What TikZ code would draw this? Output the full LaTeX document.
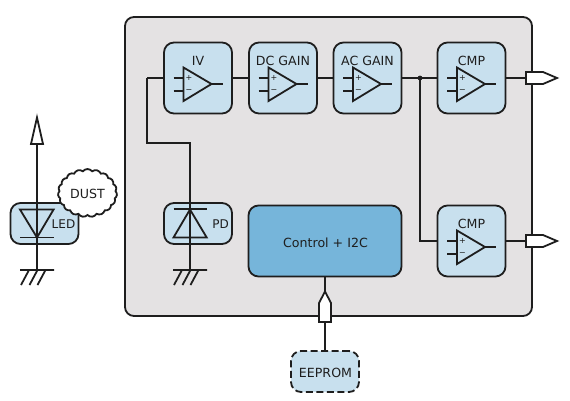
\documentclass[tikz,border=0pt]{standalone}
\usepackage{fontspec}
\setmainfont{DejaVu Sans}
\usetikzlibrary{shapes.symbols}
\definecolor{ink}{HTML}{1E1E1E}
\definecolor{chip}{HTML}{E4E2E3}
\definecolor{blockblue}{HTML}{C8E0EE}
\definecolor{ctrlblue}{HTML}{76B5DA}
\tikzset{
  wire/.style={draw=ink,line width=1.8pt},
  chipbox/.style={draw=ink,fill=chip,line width=1.8pt,rounded corners=9pt,minimum width=407pt,minimum height=299pt,inner sep=0pt},
  blockbox/.style={draw=ink,fill=blockblue,line width=1.8pt,rounded corners=10pt,minimum width=68pt,minimum height=71pt,inner sep=0pt},
  lowbox/.style={blockbox,minimum height=41pt},
  ctrlbox/.style={blockbox,fill=ctrlblue,minimum width=153pt},
  eebox/.style={lowbox,dashed,dash pattern=on 7pt off 3.5pt},
  label/.style={text=ink,font=\fontsize{12.6}{14}\selectfont,inner sep=0pt},
  hollow/.style={draw=ink,fill=white,line width=1.8pt,line join=miter},
  puff/.style={draw=ink,fill=white,line width=1.8pt,cloud,cloud puffs=19,cloud puff arc=105,aspect=1.2,minimum width=59pt,minimum height=48pt,inner sep=0pt},
  opamp/.pic={
    \draw[wire] (-24.5,0) -- (-14.5,0) (-24.5,13) -- (-14.5,13) (13.5,6) -- (24.5,6);
    \draw[wire,line join=miter] (-14.5,-10.5) -- (13.5,6) -- (-14.5,23) -- cycle;
    \node[text=ink,font=\fontsize{8}{8}\selectfont,inner sep=0pt] (-pl) at (-9,0) {+};
    \node[text=ink,font=\fontsize{8}{8}\selectfont,inner sep=0pt] (-mi) at (-9,13) {−};
  },
  earth/.pic={
    \draw[wire] (-17,0) -- (17,0) (-8,0) -- (-16,15) (0.5,0) -- (-7.5,15) (8.5,0) -- (0.5,15);
  }
}
\begin{document}
\begin{tikzpicture}[x=1pt,y=-1pt]
\useasboundingbox (0,0) rectangle (570,400);
\node[chipbox] (chip) at (328.5,166.5) {};
% blocks
\node[blockbox] (iv) at (198,78) {};
\node[blockbox] (dc) at (283,78) {};
\node[blockbox] (ac) at (367.5,78) {};
\node[blockbox] (cmpa) at (471.5,78) {};
\node[blockbox] (cmpb) at (471.5,241) {};
\node[ctrlbox] (ctrl) at (325,241) {};
\node[lowbox] (pd) at (198,223.5) {};
\node[lowbox] (led) at (44.5,223.5) {};
\node[eebox] (ee) at (325,371.5) {};
\node[label] (ctrlt) at (325.5,242.5) {Control + I2C};
\node[label] (eet) at (325.5,372.5) {EEPROM};
% titles and amplifiers
\node[label] (ivt) at (198,60.5) {IV};
\node[label] (dct) at (283,60.5) {DC GAIN};
\node[label] (act) at (367.5,60.5) {AC GAIN};
\node[label] (cmpat) at (471.5,60.5) {CMP};
\node[label] (cmpbt) at (471.5,223.5) {CMP};
\pic (oa) at (198,78) {opamp};
\pic (ob) at (283,78) {opamp};
\pic (oc) at (367.5,78) {opamp};
\pic (od) at (471.5,78) {opamp};
\pic (oe) at (471.5,241) {opamp};
% wires
\coordinate (jn) at (420,78);
\coordinate (ivin) at (147,78);
\coordinate (bend) at (147,143);
\coordinate (pdtop) at (190,143);
\coordinate (pdgnd) at (190,270);
\coordinate (ledtop) at (37,143);
\coordinate (ledgnd) at (37,270);
\coordinate (outa) at (526,78);
\coordinate (outb) at (526,241);
\coordinate (ctrlport) at (325,322);
\draw[wire] (ivin) -- (iv.west);
\draw[wire] (iv.east) -- (dc.west);
\draw[wire] (dc.east) -- (ac.west);
\draw[wire] (ac.east) -- (cmpa.west);
\draw[wire,line join=miter] (ivin) -- (bend) -- (pdtop) -- (pdgnd);
\draw[wire] (jn) |- (cmpb.west);
\fill[ink] (jn) circle (2.4pt);
\draw[wire] (cmpa.east) -- (outa);
\draw[wire] (cmpb.east) -- (outb);
\draw[wire] (ctrl.south) -- (ee.north);
\draw[wire] (ledtop) -- (ledgnd);
% diode symbols
\draw[wire,line join=miter] (190,209.5) -- (206.7,237.5) -- (173.5,237.5) -- cycle;
\draw[wire] (173.5,209) -- (207,209);
\draw[wire,line join=miter] (20,209.5) -- (53.6,209.5) -- (37,237.5) -- cycle;
\draw[wire] (20,237.5) -- (53.6,237.5);
\pic at (pdgnd) {earth};
\pic at (ledgnd) {earth};
\node[label,font=\fontsize{12}{14}\selectfont] (pdt) at (220.5,224) {PD};
\node[label,font=\fontsize{12}{14}\selectfont] (ledt) at (63.5,224) {LED};
% cloud
\node[puff] (dust) at (87.5,193) {};
\node[label] (dustt) at (87.5,193.5) {DUST};
% ports
\draw[hollow] (37,117.5) -- (43,144) -- (31,144) -- cycle;
\draw[hollow] (outa) ++(0,-6) -- ++(17,0) -- ++(14,6) -- ++(-14,6) -- ++(-17,0) -- cycle;
\draw[hollow] (outb) ++(0,-6) -- ++(17,0) -- ++(14,6) -- ++(-14,6) -- ++(-17,0) -- cycle;
\draw[hollow] (ctrlport) ++(-6,0) -- ++(0,-19) -- ++(6,-11.5) -- ++(6,11.5) -- ++(0,19) -- cycle;
\end{tikzpicture}
\end{document}
